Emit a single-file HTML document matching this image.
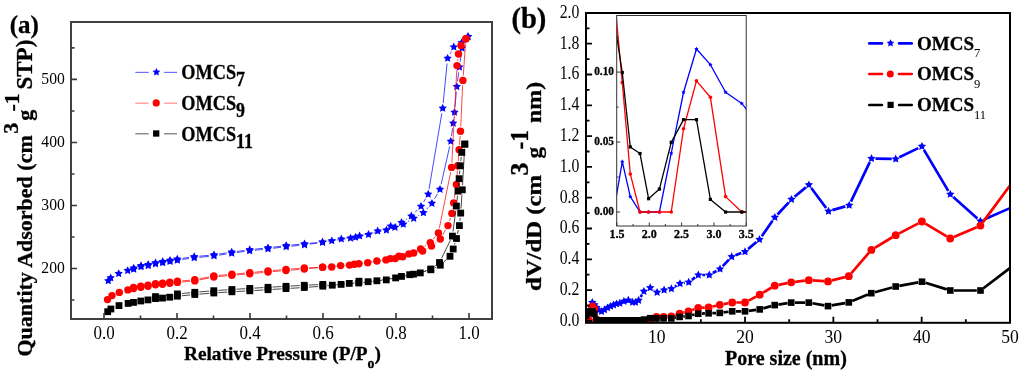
<!DOCTYPE html><html><head><meta charset="utf-8"><style>html,body{margin:0;padding:0;background:#fff;width:1024px;height:372px;overflow:hidden}svg{display:block;filter:blur(0.45px)}text{font-family:"Liberation Serif",serif}text[font-weight=bold]{stroke:#000;stroke-width:0.3px}tspan[font-weight=normal]{stroke:none}</style></head><body>
<svg width="1024" height="372" viewBox="0 0 1024 372">
<rect width="1024" height="372" fill="#fff"/>
<defs><clipPath id="cl"><rect x="71" y="22" width="421" height="297"/></clipPath>
<clipPath id="cr"><rect x="586" y="13" width="424" height="309.8"/></clipPath>
<clipPath id="ci"><rect x="616.7" y="15.5" width="129.5" height="210.5"/></clipPath></defs>
<path d="M182.45,259.47L189.05,258.53M199.38,257.30L208.82,256.40M219.14,255.12L226.56,253.98M236.85,252.51L244.55,251.49M254.87,250.26L262.83,249.44M273.16,248.28L281.04,247.32M291.38,246.19L299.32,245.41M309.64,244.13L317.36,242.97M327.63,241.33L336.17,239.87M346.43,238.16L354.47,236.84M364.61,234.62L372.69,232.38M382.79,229.94L389.91,228.46M407.84,221.67L409.16,220.93M418.18,215.77L418.92,215.33M426.91,208.86L428.39,207.24M434.50,198.90L437.40,193.90M441.14,184.33L449.66,146.37M451.48,136.15L452.52,128.35M453.82,118.04L453.88,117.46M454.96,107.12L456.34,91.78M457.49,81.45L458.71,72.25M460.13,61.95L461.37,53.25M464.47,43.47L465.63,41.23" fill="none" stroke="#0000ff" stroke-width="0.9" stroke-opacity="0.8"/>
<path d="M451.30,51.56L450.10,53.74M447.09,63.48L443.21,103.02M441.84,113.33L429.06,189.07M425.54,198.67L423.66,201.83M417.32,209.98L414.98,212.32M406.97,218.87L405.83,219.63M396.58,224.19L395.62,224.51M381.35,231.34L373.55,233.26M363.41,235.56L360.59,236.14M345.35,238.84L336.95,240.06M317.32,242.66L309.68,243.34M299.32,244.31L291.38,245.09M281.04,246.22L273.16,247.18M262.83,248.34L254.87,249.16M244.55,250.39L236.85,251.41M226.56,252.88L219.14,254.02M208.82,255.30L199.38,256.20M189.05,257.43L182.45,258.37" fill="none" stroke="#0000ff" stroke-width="0.9" stroke-opacity="0.8"/>
<polygon points="108.30,276.40 109.59,279.02 112.48,279.44 110.39,281.48 110.89,284.36 108.30,283.00 105.71,284.36 106.21,281.48 104.12,279.44 107.01,279.02" fill="#0000ff"/>
<polygon points="110.70,273.50 111.99,276.12 114.88,276.54 112.79,278.58 113.29,281.46 110.70,280.10 108.11,281.46 108.61,278.58 106.52,276.54 109.41,276.12" fill="#0000ff"/>
<polygon points="118.70,269.20 119.99,271.82 122.88,272.24 120.79,274.28 121.29,277.16 118.70,275.80 116.11,277.16 116.61,274.28 114.52,272.24 117.41,271.82" fill="#0000ff"/>
<polygon points="127.70,266.20 128.99,268.82 131.88,269.24 129.79,271.28 130.29,274.16 127.70,272.80 125.11,274.16 125.61,271.28 123.52,269.24 126.41,268.82" fill="#0000ff"/>
<polygon points="133.70,264.80 134.99,267.42 137.88,267.84 135.79,269.88 136.29,272.76 133.70,271.40 131.11,272.76 131.61,269.88 129.52,267.84 132.41,267.42" fill="#0000ff"/>
<polygon points="141.00,262.40 142.29,265.02 145.18,265.44 143.09,267.48 143.59,270.36 141.00,269.00 138.41,270.36 138.91,267.48 136.82,265.44 139.71,265.02" fill="#0000ff"/>
<polygon points="148.20,261.20 149.49,263.82 152.38,264.24 150.29,266.28 150.79,269.16 148.20,267.80 145.61,269.16 146.11,266.28 144.02,264.24 146.91,263.82" fill="#0000ff"/>
<polygon points="155.50,259.50 156.79,262.12 159.68,262.54 157.59,264.58 158.09,267.46 155.50,266.10 152.91,267.46 153.41,264.58 151.32,262.54 154.21,262.12" fill="#0000ff"/>
<polygon points="162.70,258.30 163.99,260.92 166.88,261.34 164.79,263.38 165.29,266.26 162.70,264.90 160.11,266.26 160.61,263.38 158.52,261.34 161.41,260.92" fill="#0000ff"/>
<polygon points="170.00,257.10 171.29,259.72 174.18,260.14 172.09,262.18 172.59,265.06 170.00,263.70 167.41,265.06 167.91,262.18 165.82,260.14 168.71,259.72" fill="#0000ff"/>
<polygon points="177.30,255.80 178.59,258.42 181.48,258.84 179.39,260.88 179.89,263.76 177.30,262.40 174.71,263.76 175.21,260.88 173.12,258.84 176.01,258.42" fill="#0000ff"/>
<polygon points="194.20,253.40 195.49,256.02 198.38,256.44 196.29,258.48 196.79,261.36 194.20,260.00 191.61,261.36 192.11,258.48 190.02,256.44 192.91,256.02" fill="#0000ff"/>
<polygon points="214.00,251.50 215.29,254.12 218.18,254.54 216.09,256.58 216.59,259.46 214.00,258.10 211.41,259.46 211.91,256.58 209.82,254.54 212.71,254.12" fill="#0000ff"/>
<polygon points="231.70,248.80 232.99,251.42 235.88,251.84 233.79,253.88 234.29,256.76 231.70,255.40 229.11,256.76 229.61,253.88 227.52,251.84 230.41,251.42" fill="#0000ff"/>
<polygon points="249.70,246.40 250.99,249.02 253.88,249.44 251.79,251.48 252.29,254.36 249.70,253.00 247.11,254.36 247.61,251.48 245.52,249.44 248.41,249.02" fill="#0000ff"/>
<polygon points="268.00,244.50 269.29,247.12 272.18,247.54 270.09,249.58 270.59,252.46 268.00,251.10 265.41,252.46 265.91,249.58 263.82,247.54 266.71,247.12" fill="#0000ff"/>
<polygon points="286.20,242.30 287.49,244.92 290.38,245.34 288.29,247.38 288.79,250.26 286.20,248.90 283.61,250.26 284.11,247.38 282.02,245.34 284.91,244.92" fill="#0000ff"/>
<polygon points="304.50,240.50 305.79,243.12 308.68,243.54 306.59,245.58 307.09,248.46 304.50,247.10 301.91,248.46 302.41,245.58 300.32,243.54 303.21,243.12" fill="#0000ff"/>
<polygon points="322.50,237.80 323.79,240.42 326.68,240.84 324.59,242.88 325.09,245.76 322.50,244.40 319.91,245.76 320.41,242.88 318.32,240.84 321.21,240.42" fill="#0000ff"/>
<polygon points="341.30,234.60 342.59,237.22 345.48,237.64 343.39,239.68 343.89,242.56 341.30,241.20 338.71,242.56 339.21,239.68 337.12,237.64 340.01,237.22" fill="#0000ff"/>
<polygon points="359.60,231.60 360.89,234.22 363.78,234.64 361.69,236.68 362.19,239.56 359.60,238.20 357.01,239.56 357.51,236.68 355.42,234.64 358.31,234.22" fill="#0000ff"/>
<polygon points="377.70,226.60 378.99,229.22 381.88,229.64 379.79,231.68 380.29,234.56 377.70,233.20 375.11,234.56 375.61,231.68 373.52,229.64 376.41,229.22" fill="#0000ff"/>
<polygon points="395.00,223.00 396.29,225.62 399.18,226.04 397.09,228.08 397.59,230.96 395.00,229.60 392.41,230.96 392.91,228.08 390.82,226.04 393.71,225.62" fill="#0000ff"/>
<polygon points="403.30,219.80 404.59,222.42 407.48,222.84 405.39,224.88 405.89,227.76 403.30,226.40 400.71,227.76 401.21,224.88 399.12,222.84 402.01,222.42" fill="#0000ff"/>
<polygon points="413.70,214.00 414.99,216.62 417.88,217.04 415.79,219.08 416.29,221.96 413.70,220.60 411.11,221.96 411.61,219.08 409.52,217.04 412.41,216.62" fill="#0000ff"/>
<polygon points="423.40,208.30 424.69,210.92 427.58,211.34 425.49,213.38 425.99,216.26 423.40,214.90 420.81,216.26 421.31,213.38 419.22,211.34 422.11,210.92" fill="#0000ff"/>
<polygon points="431.90,199.00 433.19,201.62 436.08,202.04 433.99,204.08 434.49,206.96 431.90,205.60 429.31,206.96 429.81,204.08 427.72,202.04 430.61,201.62" fill="#0000ff"/>
<polygon points="440.00,185.00 441.29,187.62 444.18,188.04 442.09,190.08 442.59,192.96 440.00,191.60 437.41,192.96 437.91,190.08 435.82,188.04 438.71,187.62" fill="#0000ff"/>
<polygon points="450.80,136.90 452.09,139.52 454.98,139.94 452.89,141.98 453.39,144.86 450.80,143.50 448.21,144.86 448.71,141.98 446.62,139.94 449.51,139.52" fill="#0000ff"/>
<polygon points="453.20,118.80 454.49,121.42 457.38,121.84 455.29,123.88 455.79,126.76 453.20,125.40 450.61,126.76 451.11,123.88 449.02,121.84 451.91,121.42" fill="#0000ff"/>
<polygon points="454.50,107.90 455.79,110.52 458.68,110.94 456.59,112.98 457.09,115.86 454.50,114.50 451.91,115.86 452.41,112.98 450.32,110.94 453.21,110.52" fill="#0000ff"/>
<polygon points="456.80,82.20 458.09,84.82 460.98,85.24 458.89,87.28 459.39,90.16 456.80,88.80 454.21,90.16 454.71,87.28 452.62,85.24 455.51,84.82" fill="#0000ff"/>
<polygon points="459.40,62.70 460.69,65.32 463.58,65.74 461.49,67.78 461.99,70.66 459.40,69.30 456.81,70.66 457.31,67.78 455.22,65.74 458.11,65.32" fill="#0000ff"/>
<polygon points="462.10,43.70 463.39,46.32 466.28,46.74 464.19,48.78 464.69,51.66 462.10,50.30 459.51,51.66 460.01,48.78 457.92,46.74 460.81,46.32" fill="#0000ff"/>
<polygon points="468.00,32.20 469.29,34.82 472.18,35.24 470.09,37.28 470.59,40.16 468.00,38.80 465.41,40.16 465.91,37.28 463.82,35.24 466.71,34.82" fill="#0000ff"/>
<polygon points="468.00,32.20 469.29,34.82 472.18,35.24 470.09,37.28 470.59,40.16 468.00,38.80 465.41,40.16 465.91,37.28 463.82,35.24 466.71,34.82" fill="#0000ff"/>
<polygon points="461.60,38.30 462.89,40.92 465.78,41.34 463.69,43.38 464.19,46.26 461.60,44.90 459.01,46.26 459.51,43.38 457.42,41.34 460.31,40.92" fill="#0000ff"/>
<polygon points="453.80,42.60 455.09,45.22 457.98,45.64 455.89,47.68 456.39,50.56 453.80,49.20 451.21,50.56 451.71,47.68 449.62,45.64 452.51,45.22" fill="#0000ff"/>
<polygon points="447.60,53.90 448.89,56.52 451.78,56.94 449.69,58.98 450.19,61.86 447.60,60.50 445.01,61.86 445.51,58.98 443.42,56.94 446.31,56.52" fill="#0000ff"/>
<polygon points="442.70,103.80 443.99,106.42 446.88,106.84 444.79,108.88 445.29,111.76 442.70,110.40 440.11,111.76 440.61,108.88 438.52,106.84 441.41,106.42" fill="#0000ff"/>
<polygon points="428.20,189.80 429.49,192.42 432.38,192.84 430.29,194.88 430.79,197.76 428.20,196.40 425.61,197.76 426.11,194.88 424.02,192.84 426.91,192.42" fill="#0000ff"/>
<polygon points="421.00,201.90 422.29,204.52 425.18,204.94 423.09,206.98 423.59,209.86 421.00,208.50 418.41,209.86 418.91,206.98 416.82,204.94 419.71,204.52" fill="#0000ff"/>
<polygon points="411.30,211.60 412.59,214.22 415.48,214.64 413.39,216.68 413.89,219.56 411.30,218.20 408.71,219.56 409.21,216.68 407.12,214.64 410.01,214.22" fill="#0000ff"/>
<polygon points="401.50,218.10 402.79,220.72 405.68,221.14 403.59,223.18 404.09,226.06 401.50,224.70 398.91,226.06 399.41,223.18 397.32,221.14 400.21,220.72" fill="#0000ff"/>
<polygon points="390.70,221.80 391.99,224.42 394.88,224.84 392.79,226.88 393.29,229.76 390.70,228.40 388.11,229.76 388.61,226.88 386.52,224.84 389.41,224.42" fill="#0000ff"/>
<polygon points="386.40,225.70 387.69,228.32 390.58,228.74 388.49,230.78 388.99,233.66 386.40,232.30 383.81,233.66 384.31,230.78 382.22,228.74 385.11,228.32" fill="#0000ff"/>
<polygon points="368.50,230.10 369.79,232.72 372.68,233.14 370.59,235.18 371.09,238.06 368.50,236.70 365.91,238.06 366.41,235.18 364.32,233.14 367.21,232.72" fill="#0000ff"/>
<polygon points="355.50,232.80 356.79,235.42 359.68,235.84 357.59,237.88 358.09,240.76 355.50,239.40 352.91,240.76 353.41,237.88 351.32,235.84 354.21,235.42" fill="#0000ff"/>
<polygon points="350.50,233.70 351.79,236.32 354.68,236.74 352.59,238.78 353.09,241.66 350.50,240.30 347.91,241.66 348.41,238.78 346.32,236.74 349.21,236.32" fill="#0000ff"/>
<polygon points="331.80,236.40 333.09,239.02 335.98,239.44 333.89,241.48 334.39,244.36 331.80,243.00 329.21,244.36 329.71,241.48 327.62,239.44 330.51,239.02" fill="#0000ff"/>
<polygon points="322.50,237.80 323.79,240.42 326.68,240.84 324.59,242.88 325.09,245.76 322.50,244.40 319.91,245.76 320.41,242.88 318.32,240.84 321.21,240.42" fill="#0000ff"/>
<polygon points="304.50,239.40 305.79,242.02 308.68,242.44 306.59,244.48 307.09,247.36 304.50,246.00 301.91,247.36 302.41,244.48 300.32,242.44 303.21,242.02" fill="#0000ff"/>
<polygon points="286.20,241.20 287.49,243.82 290.38,244.24 288.29,246.28 288.79,249.16 286.20,247.80 283.61,249.16 284.11,246.28 282.02,244.24 284.91,243.82" fill="#0000ff"/>
<polygon points="268.00,243.40 269.29,246.02 272.18,246.44 270.09,248.48 270.59,251.36 268.00,250.00 265.41,251.36 265.91,248.48 263.82,246.44 266.71,246.02" fill="#0000ff"/>
<polygon points="249.70,245.30 250.99,247.92 253.88,248.34 251.79,250.38 252.29,253.26 249.70,251.90 247.11,253.26 247.61,250.38 245.52,248.34 248.41,247.92" fill="#0000ff"/>
<polygon points="231.70,247.70 232.99,250.32 235.88,250.74 233.79,252.78 234.29,255.66 231.70,254.30 229.11,255.66 229.61,252.78 227.52,250.74 230.41,250.32" fill="#0000ff"/>
<polygon points="214.00,250.40 215.29,253.02 218.18,253.44 216.09,255.48 216.59,258.36 214.00,257.00 211.41,258.36 211.91,255.48 209.82,253.44 212.71,253.02" fill="#0000ff"/>
<polygon points="194.20,252.30 195.49,254.92 198.38,255.34 196.29,257.38 196.79,260.26 194.20,258.90 191.61,260.26 192.11,257.38 190.02,255.34 192.91,254.92" fill="#0000ff"/>
<polygon points="177.30,254.70 178.59,257.32 181.48,257.74 179.39,259.78 179.89,262.66 177.30,261.30 174.71,262.66 175.21,259.78 173.12,257.74 176.01,257.32" fill="#0000ff"/>
<polygon points="170.00,256.00 171.29,258.62 174.18,259.04 172.09,261.08 172.59,263.96 170.00,262.60 167.41,263.96 167.91,261.08 165.82,259.04 168.71,258.62" fill="#0000ff"/>
<polygon points="162.70,257.20 163.99,259.82 166.88,260.24 164.79,262.28 165.29,265.16 162.70,263.80 160.11,265.16 160.61,262.28 158.52,260.24 161.41,259.82" fill="#0000ff"/>
<polygon points="155.50,258.40 156.79,261.02 159.68,261.44 157.59,263.48 158.09,266.36 155.50,265.00 152.91,266.36 153.41,263.48 151.32,261.44 154.21,261.02" fill="#0000ff"/>
<polygon points="148.20,260.10 149.49,262.72 152.38,263.14 150.29,265.18 150.79,268.06 148.20,266.70 145.61,268.06 146.11,265.18 144.02,263.14 146.91,262.72" fill="#0000ff"/>
<polygon points="141.00,261.30 142.29,263.92 145.18,264.34 143.09,266.38 143.59,269.26 141.00,267.90 138.41,269.26 138.91,266.38 136.82,264.34 139.71,263.92" fill="#0000ff"/>
<polygon points="133.70,263.70 134.99,266.32 137.88,266.74 135.79,268.78 136.29,271.66 133.70,270.30 131.11,271.66 131.61,268.78 129.52,266.74 132.41,266.32" fill="#0000ff"/>
<path d="M182.18,281.99L190.02,281.31M199.50,279.93L209.10,277.97M218.58,276.55L227.12,275.75M236.68,274.90L245.02,274.20M254.58,273.33L263.22,272.47M272.78,271.60L281.22,270.90M290.79,270.13L299.51,269.47M309.07,268.60L317.83,267.70M327.38,266.78L335.82,266.02M345.38,265.13L354.12,264.27M363.64,263.06L372.16,261.74M381.66,260.38L390.44,259.22M407.25,255.17L409.15,254.53M426.80,248.68L427.30,248.42M435.24,243.09L436.56,242.01M442.69,234.84L445.61,229.76M449.46,221.03L450.44,217.97M452.71,208.67L452.89,207.63M454.39,198.15L455.71,189.15M456.76,179.61L457.44,170.59M458.19,161.02L458.71,154.48M459.46,144.91L460.14,135.99M460.73,126.41L462.67,85.19M463.25,75.61L465.55,43.59" fill="none" stroke="#ff0000" stroke-width="0.9" stroke-opacity="0.8"/>
<path d="M457.88,58.76L457.62,60.84M456.75,70.39L451.85,162.61M450.65,172.11L439.35,228.19M435.32,236.58L433.38,238.92M426.29,245.24L424.61,246.36M416.17,250.85L413.33,252.05M404.22,254.98L403.58,255.12M381.26,260.63L372.44,261.97M362.93,263.23L359.07,263.67M344.73,265.61L336.47,266.49M317.80,267.41L309.10,267.79M299.51,268.37L290.79,269.03M281.22,269.80L272.78,270.50M263.22,271.37L254.58,272.23M245.02,273.10L236.68,273.80M227.12,274.65L218.58,275.45M209.10,276.87L199.50,278.83M190.02,280.21L182.18,280.89" fill="none" stroke="#ff0000" stroke-width="0.9" stroke-opacity="0.8"/>
<circle cx="107.50" cy="299.60" r="3.7" fill="#ff0000"/>
<circle cx="112.00" cy="295.60" r="3.7" fill="#ff0000"/>
<circle cx="119.30" cy="292.40" r="3.7" fill="#ff0000"/>
<circle cx="127.90" cy="289.90" r="3.7" fill="#ff0000"/>
<circle cx="133.50" cy="288.60" r="3.7" fill="#ff0000"/>
<circle cx="140.80" cy="287.30" r="3.7" fill="#ff0000"/>
<circle cx="148.00" cy="286.20" r="3.7" fill="#ff0000"/>
<circle cx="155.50" cy="284.80" r="3.7" fill="#ff0000"/>
<circle cx="162.50" cy="284.30" r="3.7" fill="#ff0000"/>
<circle cx="169.80" cy="283.20" r="3.7" fill="#ff0000"/>
<circle cx="177.40" cy="282.40" r="3.7" fill="#ff0000"/>
<circle cx="194.80" cy="280.90" r="3.7" fill="#ff0000"/>
<circle cx="213.80" cy="277.00" r="3.7" fill="#ff0000"/>
<circle cx="231.90" cy="275.30" r="3.7" fill="#ff0000"/>
<circle cx="249.80" cy="273.80" r="3.7" fill="#ff0000"/>
<circle cx="268.00" cy="272.00" r="3.7" fill="#ff0000"/>
<circle cx="286.00" cy="270.50" r="3.7" fill="#ff0000"/>
<circle cx="304.30" cy="269.10" r="3.7" fill="#ff0000"/>
<circle cx="322.60" cy="267.20" r="3.7" fill="#ff0000"/>
<circle cx="340.60" cy="265.60" r="3.7" fill="#ff0000"/>
<circle cx="358.90" cy="263.80" r="3.7" fill="#ff0000"/>
<circle cx="376.90" cy="261.00" r="3.7" fill="#ff0000"/>
<circle cx="395.20" cy="258.60" r="3.7" fill="#ff0000"/>
<circle cx="402.70" cy="256.70" r="3.7" fill="#ff0000"/>
<circle cx="413.70" cy="253.00" r="3.7" fill="#ff0000"/>
<circle cx="422.60" cy="251.00" r="3.7" fill="#ff0000"/>
<circle cx="431.50" cy="246.10" r="3.7" fill="#ff0000"/>
<circle cx="440.30" cy="239.00" r="3.7" fill="#ff0000"/>
<circle cx="448.00" cy="225.60" r="3.7" fill="#ff0000"/>
<circle cx="451.90" cy="213.40" r="3.7" fill="#ff0000"/>
<circle cx="453.70" cy="202.90" r="3.7" fill="#ff0000"/>
<circle cx="456.40" cy="184.40" r="3.7" fill="#ff0000"/>
<circle cx="457.80" cy="165.80" r="3.7" fill="#ff0000"/>
<circle cx="459.10" cy="149.70" r="3.7" fill="#ff0000"/>
<circle cx="460.50" cy="131.20" r="3.7" fill="#ff0000"/>
<circle cx="462.90" cy="80.40" r="3.7" fill="#ff0000"/>
<circle cx="465.90" cy="38.80" r="3.7" fill="#ff0000"/>
<circle cx="465.90" cy="38.80" r="3.7" fill="#ff0000"/>
<circle cx="461.00" cy="45.40" r="3.7" fill="#ff0000"/>
<circle cx="458.50" cy="54.00" r="3.7" fill="#ff0000"/>
<circle cx="457.00" cy="65.60" r="3.7" fill="#ff0000"/>
<circle cx="451.60" cy="167.40" r="3.7" fill="#ff0000"/>
<circle cx="438.40" cy="232.90" r="3.7" fill="#ff0000"/>
<circle cx="430.30" cy="242.60" r="3.7" fill="#ff0000"/>
<circle cx="420.60" cy="249.00" r="3.7" fill="#ff0000"/>
<circle cx="408.90" cy="253.90" r="3.7" fill="#ff0000"/>
<circle cx="398.90" cy="256.20" r="3.7" fill="#ff0000"/>
<circle cx="390.30" cy="258.60" r="3.7" fill="#ff0000"/>
<circle cx="386.00" cy="259.90" r="3.7" fill="#ff0000"/>
<circle cx="367.70" cy="262.70" r="3.7" fill="#ff0000"/>
<circle cx="354.30" cy="264.20" r="3.7" fill="#ff0000"/>
<circle cx="349.50" cy="265.10" r="3.7" fill="#ff0000"/>
<circle cx="331.70" cy="267.00" r="3.7" fill="#ff0000"/>
<circle cx="322.60" cy="267.20" r="3.7" fill="#ff0000"/>
<circle cx="304.30" cy="268.00" r="3.7" fill="#ff0000"/>
<circle cx="286.00" cy="269.40" r="3.7" fill="#ff0000"/>
<circle cx="268.00" cy="270.90" r="3.7" fill="#ff0000"/>
<circle cx="249.80" cy="272.70" r="3.7" fill="#ff0000"/>
<circle cx="231.90" cy="274.20" r="3.7" fill="#ff0000"/>
<circle cx="213.80" cy="275.90" r="3.7" fill="#ff0000"/>
<circle cx="194.80" cy="279.80" r="3.7" fill="#ff0000"/>
<circle cx="177.40" cy="281.30" r="3.7" fill="#ff0000"/>
<circle cx="169.80" cy="282.10" r="3.7" fill="#ff0000"/>
<circle cx="162.50" cy="283.20" r="3.7" fill="#ff0000"/>
<circle cx="155.50" cy="283.70" r="3.7" fill="#ff0000"/>
<circle cx="148.00" cy="285.10" r="3.7" fill="#ff0000"/>
<circle cx="140.80" cy="286.20" r="3.7" fill="#ff0000"/>
<circle cx="133.50" cy="287.50" r="3.7" fill="#ff0000"/>
<path d="M181.98,295.75L190.22,294.95M199.39,294.14L209.21,293.36M218.39,292.70L227.31,292.10M236.49,291.54L245.21,291.06M254.39,290.52L263.41,289.98M272.59,289.42L281.41,288.88M290.59,288.32L299.71,287.78M308.89,287.18L318.21,286.52M327.38,285.75L336.52,284.85M345.69,284.04L354.11,283.36M363.27,282.45L372.33,281.35M381.45,280.10L391.05,278.60M400.10,276.97L409.00,275.13M417.96,273.07L426.34,270.93M434.94,267.80L436.16,267.20M443.69,262.09L446.61,259.41M454.58,244.61L455.12,242.89M457.51,234.01L458.39,230.09M459.88,221.02L460.22,217.68M461.02,208.51L461.98,194.39M462.55,185.21L464.55,148.69" fill="none" stroke="#000" stroke-width="0.9" stroke-opacity="0.8"/>
<path d="M461.25,156.97L460.75,161.23M459.81,170.38L459.49,174.12M458.69,183.28L458.41,186.52M457.51,195.67L456.89,201.53M455.79,210.66L453.01,231.54M450.38,240.23L441.52,258.37M435.81,265.25L434.49,266.25M426.49,270.60L424.61,271.30M415.76,273.67L414.24,273.93M397.02,277.43L390.78,278.87M381.72,280.35L372.68,281.25M354.51,282.22L353.79,282.38M344.73,283.88L336.87,284.72M327.72,284.81L327.38,284.79M318.21,284.62L308.89,285.08M299.71,285.55L290.59,286.05M281.41,286.56L272.59,287.04M263.41,287.58L254.39,288.12M245.21,288.68L236.49,289.22M227.31,289.80L218.39,290.40M209.22,291.09L199.38,291.91M190.22,292.72L181.98,293.48M172.83,294.46L160.07,296.04" fill="none" stroke="#000" stroke-width="0.9" stroke-opacity="0.8"/>
<rect x="104.30" y="308.30" width="6.8" height="6.8" fill="#000"/>
<rect x="107.50" y="305.60" width="6.8" height="6.8" fill="#000"/>
<rect x="115.60" y="302.20" width="6.8" height="6.8" fill="#000"/>
<rect x="124.70" y="300.00" width="6.8" height="6.8" fill="#000"/>
<rect x="130.10" y="299.00" width="6.8" height="6.8" fill="#000"/>
<rect x="137.40" y="297.60" width="6.8" height="6.8" fill="#000"/>
<rect x="144.60" y="296.50" width="6.8" height="6.8" fill="#000"/>
<rect x="152.10" y="295.20" width="6.8" height="6.8" fill="#000"/>
<rect x="159.10" y="294.70" width="6.8" height="6.8" fill="#000"/>
<rect x="166.40" y="293.80" width="6.8" height="6.8" fill="#000"/>
<rect x="174.00" y="292.80" width="6.8" height="6.8" fill="#000"/>
<rect x="191.40" y="291.10" width="6.8" height="6.8" fill="#000"/>
<rect x="210.40" y="289.60" width="6.8" height="6.8" fill="#000"/>
<rect x="228.50" y="288.40" width="6.8" height="6.8" fill="#000"/>
<rect x="246.40" y="287.40" width="6.8" height="6.8" fill="#000"/>
<rect x="264.60" y="286.30" width="6.8" height="6.8" fill="#000"/>
<rect x="282.60" y="285.20" width="6.8" height="6.8" fill="#000"/>
<rect x="300.90" y="284.10" width="6.8" height="6.8" fill="#000"/>
<rect x="319.40" y="282.80" width="6.8" height="6.8" fill="#000"/>
<rect x="337.70" y="281.00" width="6.8" height="6.8" fill="#000"/>
<rect x="355.30" y="279.60" width="6.8" height="6.8" fill="#000"/>
<rect x="373.50" y="277.40" width="6.8" height="6.8" fill="#000"/>
<rect x="392.20" y="274.50" width="6.8" height="6.8" fill="#000"/>
<rect x="410.10" y="270.80" width="6.8" height="6.8" fill="#000"/>
<rect x="427.40" y="266.40" width="6.8" height="6.8" fill="#000"/>
<rect x="436.90" y="261.80" width="6.8" height="6.8" fill="#000"/>
<rect x="446.60" y="252.90" width="6.8" height="6.8" fill="#000"/>
<rect x="449.80" y="245.60" width="6.8" height="6.8" fill="#000"/>
<rect x="453.10" y="235.10" width="6.8" height="6.8" fill="#000"/>
<rect x="456.00" y="222.20" width="6.8" height="6.8" fill="#000"/>
<rect x="457.30" y="209.70" width="6.8" height="6.8" fill="#000"/>
<rect x="458.90" y="186.40" width="6.8" height="6.8" fill="#000"/>
<rect x="461.40" y="140.70" width="6.8" height="6.8" fill="#000"/>
<rect x="461.40" y="140.70" width="6.8" height="6.8" fill="#000"/>
<rect x="458.40" y="149.00" width="6.8" height="6.8" fill="#000"/>
<rect x="456.80" y="162.40" width="6.8" height="6.8" fill="#000"/>
<rect x="455.70" y="175.30" width="6.8" height="6.8" fill="#000"/>
<rect x="454.60" y="187.70" width="6.8" height="6.8" fill="#000"/>
<rect x="453.00" y="202.70" width="6.8" height="6.8" fill="#000"/>
<rect x="449.00" y="232.70" width="6.8" height="6.8" fill="#000"/>
<rect x="436.10" y="259.10" width="6.8" height="6.8" fill="#000"/>
<rect x="427.40" y="265.60" width="6.8" height="6.8" fill="#000"/>
<rect x="416.90" y="269.50" width="6.8" height="6.8" fill="#000"/>
<rect x="406.30" y="271.30" width="6.8" height="6.8" fill="#000"/>
<rect x="398.10" y="273.00" width="6.8" height="6.8" fill="#000"/>
<rect x="382.90" y="276.50" width="6.8" height="6.8" fill="#000"/>
<rect x="364.70" y="278.30" width="6.8" height="6.8" fill="#000"/>
<rect x="355.60" y="277.80" width="6.8" height="6.8" fill="#000"/>
<rect x="345.90" y="280.00" width="6.8" height="6.8" fill="#000"/>
<rect x="328.90" y="281.80" width="6.8" height="6.8" fill="#000"/>
<rect x="319.40" y="281.00" width="6.8" height="6.8" fill="#000"/>
<rect x="300.90" y="281.90" width="6.8" height="6.8" fill="#000"/>
<rect x="282.60" y="282.90" width="6.8" height="6.8" fill="#000"/>
<rect x="264.60" y="283.90" width="6.8" height="6.8" fill="#000"/>
<rect x="246.40" y="285.00" width="6.8" height="6.8" fill="#000"/>
<rect x="228.50" y="286.10" width="6.8" height="6.8" fill="#000"/>
<rect x="210.40" y="287.30" width="6.8" height="6.8" fill="#000"/>
<rect x="191.40" y="288.90" width="6.8" height="6.8" fill="#000"/>
<rect x="174.00" y="290.50" width="6.8" height="6.8" fill="#000"/>
<rect x="152.10" y="293.20" width="6.8" height="6.8" fill="#000"/>
<rect x="71" y="22" width="421" height="297" fill="none" stroke="#404040" stroke-width="2"/>
<path d="M104.00,319v-6 M140.50,319v-3.5 M177.00,319v-6 M213.50,319v-3.5 M250.00,319v-6 M286.50,319v-3.5 M323.00,319v-6 M359.50,319v-3.5 M396.00,319v-6 M432.50,319v-3.5 M469.00,319v-6 M71,300.01h3.5 M71,268.50h6 M71,236.99h3.5 M71,205.47h6 M71,173.95h3.5 M71,142.44h6 M71,110.93h3.5 M71,79.41h6 M71,47.90h3.5" stroke="#3a3a3a" stroke-width="1.6" fill="none"/>
<text transform="translate(104.20,339.00) scale(0.92,1)" font-size="18.5" text-anchor="middle" >0.0</text>
<text transform="translate(177.20,339.00) scale(0.92,1)" font-size="18.5" text-anchor="middle" >0.2</text>
<text transform="translate(250.20,339.00) scale(0.92,1)" font-size="18.5" text-anchor="middle" >0.4</text>
<text transform="translate(323.20,339.00) scale(0.92,1)" font-size="18.5" text-anchor="middle" >0.6</text>
<text transform="translate(396.20,339.00) scale(0.92,1)" font-size="18.5" text-anchor="middle" >0.8</text>
<text transform="translate(469.20,339.00) scale(0.92,1)" font-size="18.5" text-anchor="middle" >1.0</text>
<text transform="translate(64.80,273.40) scale(0.89,1)" font-size="17.6" text-anchor="end" >200</text>
<text transform="translate(64.80,210.37) scale(0.89,1)" font-size="17.6" text-anchor="end" >300</text>
<text transform="translate(64.80,147.34) scale(0.89,1)" font-size="17.6" text-anchor="end" >400</text>
<text transform="translate(64.80,84.31) scale(0.89,1)" font-size="17.6" text-anchor="end" >500</text>
<text transform="translate(184.00,360.40) scale(0.99,1)" font-size="19.5" font-weight="bold" >Relative Pressure (P/P<tspan font-size="14" dy="7.5">o</tspan><tspan dy="-7.5">)</tspan></text>
<text transform="translate(31.6,356.5) rotate(-90)" font-size="22" font-weight="bold">Quantity Adsorbed (cm</text>
<text transform="translate(18.3,133.8) rotate(-90)" font-size="22" font-weight="bold">3</text>
<text transform="translate(31.6,120.8) rotate(-90)" font-size="22" font-weight="bold">g</text>
<text transform="translate(18.5,111.5) rotate(-90)" font-size="22" font-weight="bold">-1</text>
<text transform="translate(31.8,89.6) rotate(-90) scale(0.99,1)" font-size="23.3" font-weight="bold">STP)</text>
<text x="9.8" y="33" font-size="25" font-weight="bold">(a)</text>
<line x1="135.3" y1="72.39999999999999" x2="148.7" y2="72.39999999999999" stroke="#7070ff" stroke-width="1.2"/>
<line x1="164.1" y1="72.39999999999999" x2="177.2" y2="72.39999999999999" stroke="#7070ff" stroke-width="1.2"/>
<polygon points="156.40,68.00 157.60,70.44 160.30,70.83 158.35,72.73 158.81,75.42 156.40,74.15 153.99,75.42 154.45,72.73 152.50,70.83 155.20,70.44" fill="#0000ff"/>
<text transform="translate(181.30,79.20) scale(0.896,1)" font-size="20.4" font-weight="bold" >OMCS<tspan dy="7" font-size="20">7</tspan></text>
<line x1="135.3" y1="103.2" x2="148.7" y2="103.2" stroke="#ff8c8c" stroke-width="1.2"/>
<line x1="164.1" y1="103.2" x2="177.2" y2="103.2" stroke="#ff8c8c" stroke-width="1.2"/>
<circle cx="156.20" cy="102.90" r="3.6" fill="#ff0000"/>
<text transform="translate(181.30,110.00) scale(0.896,1)" font-size="20.4" font-weight="bold" >OMCS<tspan dy="7" font-size="20">9</tspan></text>
<line x1="135.3" y1="133.8" x2="148.7" y2="133.8" stroke="#707070" stroke-width="1.2"/>
<line x1="164.1" y1="133.8" x2="177.2" y2="133.8" stroke="#707070" stroke-width="1.2"/>
<rect x="153.05" y="130.35" width="6.3" height="6.3" fill="#000"/>
<text transform="translate(181.30,140.60) scale(0.896,1)" font-size="20.4" font-weight="bold" >OMCS<tspan dy="7" font-size="20">11</tspan></text>
<g clip-path="url(#cr)">
<path d="M640.63,296.95L641.87,294.85M653.51,289.95L653.79,290.15M674.84,286.66L676.56,285.64M683.95,282.96L684.75,282.84M691.90,279.80L695.10,277.40M702.30,275.00L705.30,275.00M712.79,273.04L716.51,270.96M722.76,266.10L728.94,259.60M735.44,255.29L741.26,253.11M748.06,249.12L756.44,242.08M761.78,236.21L772.52,220.69M777.52,214.47L788.78,202.33M794.56,196.83L805.84,187.37M811.28,188.01L826.12,207.99M832.35,210.10L845.35,206.40M850.92,201.69L869.78,162.11M875.50,158.58L891.70,158.92M899.30,157.27L918.30,148.13M923.94,149.84L948.26,190.86M953.29,196.96L977.41,218.44M984.06,219.50L1036.34,196.60" fill="none" stroke="#0000ff" stroke-width="2.7" />
<polygon points="586.00,317.60 587.29,320.22 590.18,320.64 588.09,322.68 588.59,325.56 586.00,324.20 583.41,325.56 583.91,322.68 581.82,320.64 584.71,320.22" fill="#0000ff"/>
<polygon points="587.40,313.60 588.69,316.22 591.58,316.64 589.49,318.68 589.99,321.56 587.40,320.20 584.81,321.56 585.31,318.68 583.22,316.64 586.11,316.22" fill="#0000ff"/>
<polygon points="589.00,307.60 590.29,310.22 593.18,310.64 591.09,312.68 591.59,315.56 589.00,314.20 586.41,315.56 586.91,312.68 584.82,310.64 587.71,310.22" fill="#0000ff"/>
<polygon points="590.70,302.10 591.99,304.72 594.88,305.14 592.79,307.18 593.29,310.06 590.70,308.70 588.11,310.06 588.61,307.18 586.52,305.14 589.41,304.72" fill="#0000ff"/>
<polygon points="592.30,298.10 593.59,300.72 596.48,301.14 594.39,303.18 594.89,306.06 592.30,304.70 589.71,306.06 590.21,303.18 588.12,301.14 591.01,300.72" fill="#0000ff"/>
<polygon points="594.40,300.40 595.69,303.02 598.58,303.44 596.49,305.48 596.99,308.36 594.40,307.00 591.81,308.36 592.31,305.48 590.22,303.44 593.11,303.02" fill="#0000ff"/>
<polygon points="596.40,303.10 597.69,305.72 600.58,306.14 598.49,308.18 598.99,311.06 596.40,309.70 593.81,311.06 594.31,308.18 592.22,306.14 595.11,305.72" fill="#0000ff"/>
<polygon points="598.60,305.60 599.89,308.22 602.78,308.64 600.69,310.68 601.19,313.56 598.60,312.20 596.01,313.56 596.51,310.68 594.42,308.64 597.31,308.22" fill="#0000ff"/>
<polygon points="601.50,307.10 602.79,309.72 605.68,310.14 603.59,312.18 604.09,315.06 601.50,313.70 598.91,315.06 599.41,312.18 597.32,310.14 600.21,309.72" fill="#0000ff"/>
<polygon points="604.50,305.40 605.79,308.02 608.68,308.44 606.59,310.48 607.09,313.36 604.50,312.00 601.91,313.36 602.41,310.48 600.32,308.44 603.21,308.02" fill="#0000ff"/>
<polygon points="607.50,303.40 608.79,306.02 611.68,306.44 609.59,308.48 610.09,311.36 607.50,310.00 604.91,311.36 605.41,308.48 603.32,306.44 606.21,306.02" fill="#0000ff"/>
<polygon points="610.50,301.90 611.79,304.52 614.68,304.94 612.59,306.98 613.09,309.86 610.50,308.50 607.91,309.86 608.41,306.98 606.32,304.94 609.21,304.52" fill="#0000ff"/>
<polygon points="613.50,300.60 614.79,303.22 617.68,303.64 615.59,305.68 616.09,308.56 613.50,307.20 610.91,308.56 611.41,305.68 609.32,303.64 612.21,303.22" fill="#0000ff"/>
<polygon points="616.50,299.40 617.79,302.02 620.68,302.44 618.59,304.48 619.09,307.36 616.50,306.00 613.91,307.36 614.41,304.48 612.32,302.44 615.21,302.02" fill="#0000ff"/>
<polygon points="619.70,298.80 620.99,301.42 623.88,301.84 621.79,303.88 622.29,306.76 619.70,305.40 617.11,306.76 617.61,303.88 615.52,301.84 618.41,301.42" fill="#0000ff"/>
<polygon points="623.90,297.00 625.19,299.62 628.08,300.04 625.99,302.08 626.49,304.96 623.90,303.60 621.31,304.96 621.81,302.08 619.72,300.04 622.61,299.62" fill="#0000ff"/>
<polygon points="628.30,295.80 629.59,298.42 632.48,298.84 630.39,300.88 630.89,303.76 628.30,302.40 625.71,303.76 626.21,300.88 624.12,298.84 627.01,298.42" fill="#0000ff"/>
<polygon points="632.60,297.80 633.89,300.42 636.78,300.84 634.69,302.88 635.19,305.76 632.60,304.40 630.01,305.76 630.51,302.88 628.42,300.84 631.31,300.42" fill="#0000ff"/>
<polygon points="635.50,297.90 636.79,300.52 639.68,300.94 637.59,302.98 638.09,305.86 635.50,304.50 632.91,305.86 633.41,302.98 631.32,300.94 634.21,300.52" fill="#0000ff"/>
<polygon points="638.60,296.00 639.89,298.62 642.78,299.04 640.69,301.08 641.19,303.96 638.60,302.60 636.01,303.96 636.51,301.08 634.42,299.04 637.31,298.62" fill="#0000ff"/>
<polygon points="643.90,287.00 645.19,289.62 648.08,290.04 645.99,292.08 646.49,294.96 643.90,293.60 641.31,294.96 641.81,292.08 639.72,290.04 642.61,289.62" fill="#0000ff"/>
<polygon points="650.20,283.30 651.49,285.92 654.38,286.34 652.29,288.38 652.79,291.26 650.20,289.90 647.61,291.26 648.11,288.38 646.02,286.34 648.91,285.92" fill="#0000ff"/>
<polygon points="657.10,288.00 658.39,290.62 661.28,291.04 659.19,293.08 659.69,295.96 657.10,294.60 654.51,295.96 655.01,293.08 652.92,291.04 655.81,290.62" fill="#0000ff"/>
<polygon points="664.10,285.60 665.39,288.22 668.28,288.64 666.19,290.68 666.69,293.56 664.10,292.20 661.51,293.56 662.01,290.68 659.92,288.64 662.81,288.22" fill="#0000ff"/>
<polygon points="671.40,284.30 672.69,286.92 675.58,287.34 673.49,289.38 673.99,292.26 671.40,290.90 668.81,292.26 669.31,289.38 667.22,287.34 670.11,286.92" fill="#0000ff"/>
<polygon points="680.00,279.20 681.29,281.82 684.18,282.24 682.09,284.28 682.59,287.16 680.00,285.80 677.41,287.16 677.91,284.28 675.82,282.24 678.71,281.82" fill="#0000ff"/>
<polygon points="688.70,277.80 689.99,280.42 692.88,280.84 690.79,282.88 691.29,285.76 688.70,284.40 686.11,285.76 686.61,282.88 684.52,280.84 687.41,280.42" fill="#0000ff"/>
<polygon points="698.30,270.60 699.59,273.22 702.48,273.64 700.39,275.68 700.89,278.56 698.30,277.20 695.71,278.56 696.21,275.68 694.12,273.64 697.01,273.22" fill="#0000ff"/>
<polygon points="709.30,270.60 710.59,273.22 713.48,273.64 711.39,275.68 711.89,278.56 709.30,277.20 706.71,278.56 707.21,275.68 705.12,273.64 708.01,273.22" fill="#0000ff"/>
<polygon points="720.00,264.60 721.29,267.22 724.18,267.64 722.09,269.68 722.59,272.56 720.00,271.20 717.41,272.56 717.91,269.68 715.82,267.64 718.71,267.22" fill="#0000ff"/>
<polygon points="731.70,252.30 732.99,254.92 735.88,255.34 733.79,257.38 734.29,260.26 731.70,258.90 729.11,260.26 729.61,257.38 727.52,255.34 730.41,254.92" fill="#0000ff"/>
<polygon points="745.00,247.30 746.29,249.92 749.18,250.34 747.09,252.38 747.59,255.26 745.00,253.90 742.41,255.26 742.91,252.38 740.82,250.34 743.71,249.92" fill="#0000ff"/>
<polygon points="759.50,235.10 760.79,237.72 763.68,238.14 761.59,240.18 762.09,243.06 759.50,241.70 756.91,243.06 757.41,240.18 755.32,238.14 758.21,237.72" fill="#0000ff"/>
<polygon points="774.80,213.00 776.09,215.62 778.98,216.04 776.89,218.08 777.39,220.96 774.80,219.60 772.21,220.96 772.71,218.08 770.62,216.04 773.51,215.62" fill="#0000ff"/>
<polygon points="791.50,195.00 792.79,197.62 795.68,198.04 793.59,200.08 794.09,202.96 791.50,201.60 788.91,202.96 789.41,200.08 787.32,198.04 790.21,197.62" fill="#0000ff"/>
<polygon points="808.90,180.40 810.19,183.02 813.08,183.44 810.99,185.48 811.49,188.36 808.90,187.00 806.31,188.36 806.81,185.48 804.72,183.44 807.61,183.02" fill="#0000ff"/>
<polygon points="828.50,206.80 829.79,209.42 832.68,209.84 830.59,211.88 831.09,214.76 828.50,213.40 825.91,214.76 826.41,211.88 824.32,209.84 827.21,209.42" fill="#0000ff"/>
<polygon points="849.20,200.90 850.49,203.52 853.38,203.94 851.29,205.98 851.79,208.86 849.20,207.50 846.61,208.86 847.11,205.98 845.02,203.94 847.91,203.52" fill="#0000ff"/>
<polygon points="871.50,154.10 872.79,156.72 875.68,157.14 873.59,159.18 874.09,162.06 871.50,160.70 868.91,162.06 869.41,159.18 867.32,157.14 870.21,156.72" fill="#0000ff"/>
<polygon points="895.70,154.60 896.99,157.22 899.88,157.64 897.79,159.68 898.29,162.56 895.70,161.20 893.11,162.56 893.61,159.68 891.52,157.64 894.41,157.22" fill="#0000ff"/>
<polygon points="921.90,142.00 923.19,144.62 926.08,145.04 923.99,147.08 924.49,149.96 921.90,148.60 919.31,149.96 919.81,147.08 917.72,145.04 920.61,144.62" fill="#0000ff"/>
<polygon points="950.30,189.90 951.59,192.52 954.48,192.94 952.39,194.98 952.89,197.86 950.30,196.50 947.71,197.86 948.21,194.98 946.12,192.94 949.01,192.52" fill="#0000ff"/>
<polygon points="980.40,216.70 981.69,219.32 984.58,219.74 982.49,221.78 982.99,224.66 980.40,223.30 977.81,224.66 978.31,221.78 976.22,219.74 979.11,219.32" fill="#0000ff"/>
<path d="M595.15,312.93L595.65,315.57M675.09,315.22L675.81,314.98M683.46,312.66L684.64,312.34M692.26,309.94L694.44,309.16M702.20,307.65L704.60,307.55M712.50,306.50L715.90,305.70M723.73,304.07L728.27,303.23M736.20,302.50L741.00,302.50M748.53,300.63L756.17,296.57M763.13,292.64L771.27,287.76M778.62,284.89L787.28,283.11M795.17,281.83L804.83,280.67M812.79,280.45L824.01,281.15M831.88,280.43L844.92,277.17M851.41,273.17L868.79,252.93M874.82,247.83L892.28,237.27M899.24,233.35L918.36,223.35M925.33,223.56L946.77,236.44M953.88,236.93L976.72,227.17M982.78,222.38L1037.62,148.22" fill="none" stroke="#ff0000" stroke-width="2.7" />
<circle cx="586.00" cy="322.00" r="3.9" fill="#ff0000"/>
<circle cx="587.40" cy="322.00" r="3.9" fill="#ff0000"/>
<circle cx="589.00" cy="321.00" r="3.9" fill="#ff0000"/>
<circle cx="590.70" cy="313.00" r="3.9" fill="#ff0000"/>
<circle cx="592.40" cy="306.50" r="3.9" fill="#ff0000"/>
<circle cx="594.40" cy="309.00" r="3.9" fill="#ff0000"/>
<circle cx="596.40" cy="319.50" r="3.9" fill="#ff0000"/>
<circle cx="598.60" cy="321.00" r="3.9" fill="#ff0000"/>
<circle cx="601.50" cy="321.00" r="3.9" fill="#ff0000"/>
<circle cx="604.50" cy="321.00" r="3.9" fill="#ff0000"/>
<circle cx="607.50" cy="321.00" r="3.9" fill="#ff0000"/>
<circle cx="610.50" cy="321.00" r="3.9" fill="#ff0000"/>
<circle cx="613.50" cy="321.00" r="3.9" fill="#ff0000"/>
<circle cx="616.50" cy="321.00" r="3.9" fill="#ff0000"/>
<circle cx="619.70" cy="321.00" r="3.9" fill="#ff0000"/>
<circle cx="623.90" cy="321.00" r="3.9" fill="#ff0000"/>
<circle cx="628.30" cy="321.00" r="3.9" fill="#ff0000"/>
<circle cx="632.60" cy="321.00" r="3.9" fill="#ff0000"/>
<circle cx="635.50" cy="321.00" r="3.9" fill="#ff0000"/>
<circle cx="638.60" cy="321.00" r="3.9" fill="#ff0000"/>
<circle cx="643.90" cy="321.00" r="3.9" fill="#ff0000"/>
<circle cx="650.20" cy="321.50" r="3.9" fill="#ff0000"/>
<circle cx="656.50" cy="317.00" r="3.9" fill="#ff0000"/>
<circle cx="663.60" cy="316.80" r="3.9" fill="#ff0000"/>
<circle cx="671.30" cy="316.50" r="3.9" fill="#ff0000"/>
<circle cx="679.60" cy="313.70" r="3.9" fill="#ff0000"/>
<circle cx="688.50" cy="311.30" r="3.9" fill="#ff0000"/>
<circle cx="698.20" cy="307.80" r="3.9" fill="#ff0000"/>
<circle cx="708.60" cy="307.40" r="3.9" fill="#ff0000"/>
<circle cx="719.80" cy="304.80" r="3.9" fill="#ff0000"/>
<circle cx="732.20" cy="302.50" r="3.9" fill="#ff0000"/>
<circle cx="745.00" cy="302.50" r="3.9" fill="#ff0000"/>
<circle cx="759.70" cy="294.70" r="3.9" fill="#ff0000"/>
<circle cx="774.70" cy="285.70" r="3.9" fill="#ff0000"/>
<circle cx="791.20" cy="282.30" r="3.9" fill="#ff0000"/>
<circle cx="808.80" cy="280.20" r="3.9" fill="#ff0000"/>
<circle cx="828.00" cy="281.40" r="3.9" fill="#ff0000"/>
<circle cx="848.80" cy="276.20" r="3.9" fill="#ff0000"/>
<circle cx="871.40" cy="249.90" r="3.9" fill="#ff0000"/>
<circle cx="895.70" cy="235.20" r="3.9" fill="#ff0000"/>
<circle cx="921.90" cy="221.50" r="3.9" fill="#ff0000"/>
<circle cx="950.20" cy="238.50" r="3.9" fill="#ff0000"/>
<circle cx="980.40" cy="225.60" r="3.9" fill="#ff0000"/>
<path d="M674.94,317.74L675.96,317.56M683.28,316.53L684.82,316.37M692.10,315.15L694.60,314.55M701.90,313.56L704.90,313.44M712.30,313.17L716.10,313.03M723.47,312.43L728.53,311.77M735.90,311.30L741.30,311.30M748.67,310.83L756.03,309.87M763.26,308.38L771.14,306.12M778.36,304.55L787.54,303.15M794.90,302.60L805.10,302.60M812.44,303.26L824.36,305.44M831.64,305.45L845.16,303.05M852.22,301.00L867.88,294.60M874.87,292.22L892.13,287.48M899.34,285.84L918.36,282.36M925.53,282.80L946.77,289.40M954.00,290.50L976.80,290.50M983.44,288.25L1037.06,247.25" fill="none" stroke="#000" stroke-width="2.7" />
<rect x="582.70" y="312.70" width="6.6" height="6.6" fill="#000"/>
<rect x="584.10" y="309.70" width="6.6" height="6.6" fill="#000"/>
<rect x="585.70" y="308.10" width="6.6" height="6.6" fill="#000"/>
<rect x="587.40" y="308.10" width="6.6" height="6.6" fill="#000"/>
<rect x="589.10" y="308.10" width="6.6" height="6.6" fill="#000"/>
<rect x="591.10" y="310.70" width="6.6" height="6.6" fill="#000"/>
<rect x="593.10" y="317.10" width="6.6" height="6.6" fill="#000"/>
<rect x="595.30" y="317.10" width="6.6" height="6.6" fill="#000"/>
<rect x="598.20" y="317.10" width="6.6" height="6.6" fill="#000"/>
<rect x="601.20" y="317.10" width="6.6" height="6.6" fill="#000"/>
<rect x="604.20" y="317.10" width="6.6" height="6.6" fill="#000"/>
<rect x="607.20" y="317.10" width="6.6" height="6.6" fill="#000"/>
<rect x="610.20" y="317.10" width="6.6" height="6.6" fill="#000"/>
<rect x="613.20" y="317.10" width="6.6" height="6.6" fill="#000"/>
<rect x="616.40" y="317.10" width="6.6" height="6.6" fill="#000"/>
<rect x="620.60" y="317.10" width="6.6" height="6.6" fill="#000"/>
<rect x="625.00" y="317.10" width="6.6" height="6.6" fill="#000"/>
<rect x="629.30" y="317.10" width="6.6" height="6.6" fill="#000"/>
<rect x="632.20" y="317.10" width="6.6" height="6.6" fill="#000"/>
<rect x="635.30" y="317.10" width="6.6" height="6.6" fill="#000"/>
<rect x="640.60" y="316.30" width="6.6" height="6.6" fill="#000"/>
<rect x="646.90" y="314.90" width="6.6" height="6.6" fill="#000"/>
<rect x="653.20" y="315.10" width="6.6" height="6.6" fill="#000"/>
<rect x="660.30" y="315.10" width="6.6" height="6.6" fill="#000"/>
<rect x="668.00" y="315.10" width="6.6" height="6.6" fill="#000"/>
<rect x="676.30" y="313.60" width="6.6" height="6.6" fill="#000"/>
<rect x="685.20" y="312.70" width="6.6" height="6.6" fill="#000"/>
<rect x="694.90" y="310.40" width="6.6" height="6.6" fill="#000"/>
<rect x="705.30" y="310.00" width="6.6" height="6.6" fill="#000"/>
<rect x="716.50" y="309.60" width="6.6" height="6.6" fill="#000"/>
<rect x="728.90" y="308.00" width="6.6" height="6.6" fill="#000"/>
<rect x="741.70" y="308.00" width="6.6" height="6.6" fill="#000"/>
<rect x="756.40" y="306.10" width="6.6" height="6.6" fill="#000"/>
<rect x="771.40" y="301.80" width="6.6" height="6.6" fill="#000"/>
<rect x="787.90" y="299.30" width="6.6" height="6.6" fill="#000"/>
<rect x="805.50" y="299.30" width="6.6" height="6.6" fill="#000"/>
<rect x="824.70" y="302.80" width="6.6" height="6.6" fill="#000"/>
<rect x="845.50" y="299.10" width="6.6" height="6.6" fill="#000"/>
<rect x="868.00" y="289.90" width="6.6" height="6.6" fill="#000"/>
<rect x="892.40" y="283.20" width="6.6" height="6.6" fill="#000"/>
<rect x="918.70" y="278.40" width="6.6" height="6.6" fill="#000"/>
<rect x="947.00" y="287.20" width="6.6" height="6.6" fill="#000"/>
<rect x="977.20" y="287.20" width="6.6" height="6.6" fill="#000"/>
</g>
<rect x="586" y="13" width="424" height="309.8" fill="none" stroke="#000" stroke-width="2"/>
<path d="M612.54,322.8v-3.5 M656.70,322.8v-6 M700.86,322.8v-3.5 M745.03,322.8v-6 M789.19,322.8v-3.5 M833.35,322.8v-6 M877.51,322.8v-3.5 M921.67,322.8v-6 M965.84,322.8v-3.5 M1010.00,322.8v-6 M586,320.90h6 M586,305.50h3.5 M586,290.10h6 M586,274.70h3.5 M586,259.30h6 M586,243.90h3.5 M586,228.50h6 M586,213.10h3.5 M586,197.70h6 M586,182.30h3.5 M586,166.90h6 M586,151.50h3.5 M586,136.10h6 M586,120.70h3.5 M586,105.30h6 M586,89.90h3.5 M586,74.50h6 M586,59.10h3.5 M586,43.70h6 M586,28.30h3.5 M586,12.90h6" stroke="#000" stroke-width="1.8" fill="none"/>
<text transform="translate(656.70,343.00) scale(0.93,1)" font-size="18.9" text-anchor="middle" >10</text>
<text transform="translate(745.03,343.00) scale(0.93,1)" font-size="18.9" text-anchor="middle" >20</text>
<text transform="translate(833.35,343.00) scale(0.93,1)" font-size="18.9" text-anchor="middle" >30</text>
<text transform="translate(921.67,343.00) scale(0.93,1)" font-size="18.9" text-anchor="middle" >40</text>
<text transform="translate(1010.00,343.00) scale(0.93,1)" font-size="18.9" text-anchor="middle" >50</text>
<text transform="translate(579.40,325.80) scale(0.82,1)" font-size="19.2" text-anchor="end" >0.0</text>
<text transform="translate(579.40,295.00) scale(0.82,1)" font-size="19.2" text-anchor="end" >0.2</text>
<text transform="translate(579.40,264.20) scale(0.82,1)" font-size="19.2" text-anchor="end" >0.4</text>
<text transform="translate(579.40,233.40) scale(0.82,1)" font-size="19.2" text-anchor="end" >0.6</text>
<text transform="translate(579.40,202.60) scale(0.82,1)" font-size="19.2" text-anchor="end" >0.8</text>
<text transform="translate(579.40,171.80) scale(0.82,1)" font-size="19.2" text-anchor="end" >1.0</text>
<text transform="translate(579.40,141.00) scale(0.82,1)" font-size="19.2" text-anchor="end" >1.2</text>
<text transform="translate(579.40,110.20) scale(0.82,1)" font-size="19.2" text-anchor="end" >1.4</text>
<text transform="translate(579.40,79.40) scale(0.82,1)" font-size="19.2" text-anchor="end" >1.6</text>
<text transform="translate(579.40,48.60) scale(0.82,1)" font-size="19.2" text-anchor="end" >1.8</text>
<text transform="translate(579.40,17.80) scale(0.82,1)" font-size="19.2" text-anchor="end" >2.0</text>
<text transform="translate(725.00,364.80) scale(1.0,1)" font-size="20" font-weight="bold" >Pore size (nm)</text>
<text transform="translate(541,291.1) rotate(-90) scale(1.125,1)" font-size="22" font-weight="bold">dV/dD (cm</text>
<text transform="translate(528.3,175.6) rotate(-90) scale(1.05,1)" font-size="24.5" font-weight="bold">3</text>
<text transform="translate(541,158.6) rotate(-90) scale(1.05,1)" font-size="22" font-weight="bold">g</text>
<text transform="translate(528.3,149.6) rotate(-90) scale(0.95,1)" font-size="24.5" font-weight="bold">-1</text>
<text transform="translate(541,123.1) rotate(-90) scale(1.09,1)" font-size="22" font-weight="bold">nm)</text>
<text x="511.4" y="28.4" font-size="28.5" font-weight="bold">(b)</text>
<line x1="869.3" y1="43.4" x2="881.9" y2="43.4" stroke="#0000ff" stroke-width="2.7" stroke-linecap="round"/>
<line x1="899.1" y1="43.4" x2="911.7" y2="43.4" stroke="#0000ff" stroke-width="2.7" stroke-linecap="round"/>
<polygon points="890.50,39.20 891.68,41.58 894.30,41.96 892.40,43.82 892.85,46.44 890.50,45.20 888.15,46.44 888.60,43.82 886.70,41.96 889.32,41.58" fill="#0000ff"/>
<text transform="translate(917.00,49.60) scale(0.97,1)" font-size="19.6" font-weight="bold" >OMCS<tspan dy="7.5" font-size="13" font-weight="normal">7</tspan></text>
<line x1="869.3" y1="74.0" x2="881.9" y2="74.0" stroke="#ff0000" stroke-width="2.7" stroke-linecap="round"/>
<line x1="899.1" y1="74.0" x2="911.7" y2="74.0" stroke="#ff0000" stroke-width="2.7" stroke-linecap="round"/>
<circle cx="890.30" cy="73.90" r="3.5" fill="#ff0000"/>
<text transform="translate(917.00,80.20) scale(0.97,1)" font-size="19.6" font-weight="bold" >OMCS<tspan dy="7.5" font-size="13" font-weight="normal">9</tspan></text>
<line x1="869.3" y1="105.0" x2="881.9" y2="105.0" stroke="#000" stroke-width="2.7" stroke-linecap="round"/>
<line x1="899.1" y1="105.0" x2="911.7" y2="105.0" stroke="#000" stroke-width="2.7" stroke-linecap="round"/>
<rect x="887.50" y="101.80" width="6.2" height="6.2" fill="#000"/>
<text transform="translate(917.00,111.20) scale(0.97,1)" font-size="19.6" font-weight="bold" >OMCS<tspan dy="7.5" font-size="13" font-weight="normal">11</tspan></text>
<rect x="616.7" y="15.5" width="129.5" height="210.5" fill="#fff" stroke="none"/>
<g clip-path="url(#ci)">
<polyline points="613.66,212.00 622.27,161.64 630.29,196.61 640.00,212.00 648.60,212.00 659.41,212.00 671.25,153.24 683.54,92.25 696.48,49.02 710.39,64.69 725.60,92.25 741.77,103.44 759.24,125.26" fill="none" stroke="#0000ff" stroke-width="1.3" stroke-linejoin="round" />
<polygon points="613.66,209.70 614.34,211.07 615.85,211.29 614.76,212.36 615.02,213.86 613.66,213.15 612.31,213.86 612.57,212.36 611.48,211.29 612.99,211.07" fill="#0000ff"/>
<polygon points="622.27,159.34 622.95,160.71 624.46,160.93 623.36,161.99 623.62,163.50 622.27,162.79 620.92,163.50 621.18,161.99 620.08,160.93 621.59,160.71" fill="#0000ff"/>
<polygon points="630.29,194.31 630.97,195.68 632.48,195.90 631.39,196.97 631.64,198.47 630.29,197.76 628.94,198.47 629.20,196.97 628.11,195.90 629.62,195.68" fill="#0000ff"/>
<polygon points="640.00,209.70 640.67,211.07 642.19,211.29 641.09,212.36 641.35,213.86 640.00,213.15 638.65,213.86 638.90,212.36 637.81,211.29 639.32,211.07" fill="#0000ff"/>
<polygon points="648.60,209.70 649.28,211.07 650.79,211.29 649.70,212.36 649.95,213.86 648.60,213.15 647.25,213.86 647.51,212.36 646.42,211.29 647.93,211.07" fill="#0000ff"/>
<polygon points="659.41,209.70 660.08,211.07 661.60,211.29 660.50,212.36 660.76,213.86 659.41,213.15 658.06,213.86 658.31,212.36 657.22,211.29 658.73,211.07" fill="#0000ff"/>
<polygon points="671.25,150.94 671.92,152.31 673.44,152.53 672.34,153.60 672.60,155.10 671.25,154.39 669.90,155.10 670.15,153.60 669.06,152.53 670.57,152.31" fill="#0000ff"/>
<polygon points="683.54,89.95 684.22,91.32 685.73,91.53 684.63,92.60 684.89,94.11 683.54,93.40 682.19,94.11 682.45,92.60 681.35,91.53 682.87,91.32" fill="#0000ff"/>
<polygon points="696.48,46.72 697.16,48.09 698.67,48.31 697.57,49.37 697.83,50.88 696.48,50.17 695.13,50.88 695.39,49.37 694.29,48.31 695.81,48.09" fill="#0000ff"/>
<polygon points="710.39,62.39 711.07,63.75 712.58,63.97 711.49,65.04 711.74,66.55 710.39,65.84 709.04,66.55 709.30,65.04 708.20,63.97 709.72,63.75" fill="#0000ff"/>
<polygon points="725.60,89.95 726.27,91.32 727.78,91.53 726.69,92.60 726.95,94.11 725.60,93.40 724.24,94.11 724.50,92.60 723.41,91.53 724.92,91.32" fill="#0000ff"/>
<polygon points="741.77,101.14 742.45,102.51 743.96,102.73 742.86,103.79 743.12,105.30 741.77,104.59 740.42,105.30 740.68,103.79 739.58,102.73 741.10,102.51" fill="#0000ff"/>
<polygon points="759.24,122.96 759.92,124.33 761.43,124.55 760.33,125.62 760.59,127.12 759.24,126.41 757.89,127.12 758.15,125.62 757.05,124.55 758.56,124.33" fill="#0000ff"/>
<polyline points="613.66,-11.84 622.27,82.45 630.29,173.95 640.00,212.00 648.60,212.00 659.41,212.00 671.25,212.00 683.54,128.76 696.48,80.91 710.39,97.28 725.60,196.61 741.77,212.00 759.24,212.00" fill="none" stroke="#ff0000" stroke-width="1.3" stroke-linejoin="round" />
<circle cx="613.66" cy="-11.84" r="1.8" fill="#ff0000"/>
<circle cx="622.27" cy="82.45" r="1.8" fill="#ff0000"/>
<circle cx="630.29" cy="173.95" r="1.8" fill="#ff0000"/>
<circle cx="640.00" cy="212.00" r="1.8" fill="#ff0000"/>
<circle cx="648.60" cy="212.00" r="1.8" fill="#ff0000"/>
<circle cx="659.41" cy="212.00" r="1.8" fill="#ff0000"/>
<circle cx="671.25" cy="212.00" r="1.8" fill="#ff0000"/>
<circle cx="683.54" cy="128.76" r="1.8" fill="#ff0000"/>
<circle cx="696.48" cy="80.91" r="1.8" fill="#ff0000"/>
<circle cx="710.39" cy="97.28" r="1.8" fill="#ff0000"/>
<circle cx="725.60" cy="196.61" r="1.8" fill="#ff0000"/>
<circle cx="741.77" cy="212.00" r="1.8" fill="#ff0000"/>
<circle cx="759.24" cy="212.00" r="1.8" fill="#ff0000"/>
<polyline points="613.66,16.14 622.27,72.52 630.29,146.95 640.00,153.52 648.60,198.71 659.41,189.06 671.25,142.33 683.54,119.67 696.48,119.67 710.39,199.41 725.60,212.00 741.77,212.00 759.24,212.00" fill="none" stroke="#000" stroke-width="1.3" stroke-linejoin="round" />
<rect x="612.06" y="14.54" width="3.2" height="3.2" fill="#000"/>
<rect x="620.67" y="70.92" width="3.2" height="3.2" fill="#000"/>
<rect x="628.69" y="145.35" width="3.2" height="3.2" fill="#000"/>
<rect x="638.40" y="151.92" width="3.2" height="3.2" fill="#000"/>
<rect x="647.00" y="197.11" width="3.2" height="3.2" fill="#000"/>
<rect x="657.81" y="187.46" width="3.2" height="3.2" fill="#000"/>
<rect x="669.65" y="140.73" width="3.2" height="3.2" fill="#000"/>
<rect x="681.94" y="118.07" width="3.2" height="3.2" fill="#000"/>
<rect x="694.88" y="118.07" width="3.2" height="3.2" fill="#000"/>
<rect x="708.79" y="197.81" width="3.2" height="3.2" fill="#000"/>
<rect x="724.00" y="210.40" width="3.2" height="3.2" fill="#000"/>
<rect x="740.17" y="210.40" width="3.2" height="3.2" fill="#000"/>
<rect x="757.64" y="210.40" width="3.2" height="3.2" fill="#000"/>
</g>
<rect x="616.7" y="15.5" width="129.5" height="210.5" fill="none" stroke="#333" stroke-width="1"/>
<path d="M616.90,226v-3.5 M633.07,226v-2 M649.25,226v-3.5 M665.42,226v-2 M681.60,226v-3.5 M697.77,226v-2 M713.95,226v-3.5 M730.12,226v-2 M746.30,226v-3.5 M616.7,212.00h3.5 M616.7,177.03h2 M616.7,142.05h3.5 M616.7,107.07h2 M616.7,72.10h3.5 M616.7,37.12h2" stroke="#333" stroke-width="1" fill="none"/>
<text transform="translate(616.90,237.90) scale(0.97,1)" font-size="12.4" font-weight="bold" text-anchor="middle" >1.5</text>
<text transform="translate(649.25,237.90) scale(0.97,1)" font-size="12.4" font-weight="bold" text-anchor="middle" >2.0</text>
<text transform="translate(681.60,237.90) scale(0.97,1)" font-size="12.4" font-weight="bold" text-anchor="middle" >2.5</text>
<text transform="translate(713.95,237.90) scale(0.97,1)" font-size="12.4" font-weight="bold" text-anchor="middle" >3.0</text>
<text transform="translate(746.30,237.90) scale(0.97,1)" font-size="12.4" font-weight="bold" text-anchor="middle" >3.5</text>
<text transform="translate(614.00,214.80) scale(0.9,1)" font-size="12.6" font-weight="bold" text-anchor="end" >0.00</text>
<text transform="translate(614.00,144.85) scale(0.9,1)" font-size="12.6" font-weight="bold" text-anchor="end" >0.05</text>
<text transform="translate(614.00,74.90) scale(0.9,1)" font-size="12.6" font-weight="bold" text-anchor="end" >0.10</text>
</svg></body></html>
